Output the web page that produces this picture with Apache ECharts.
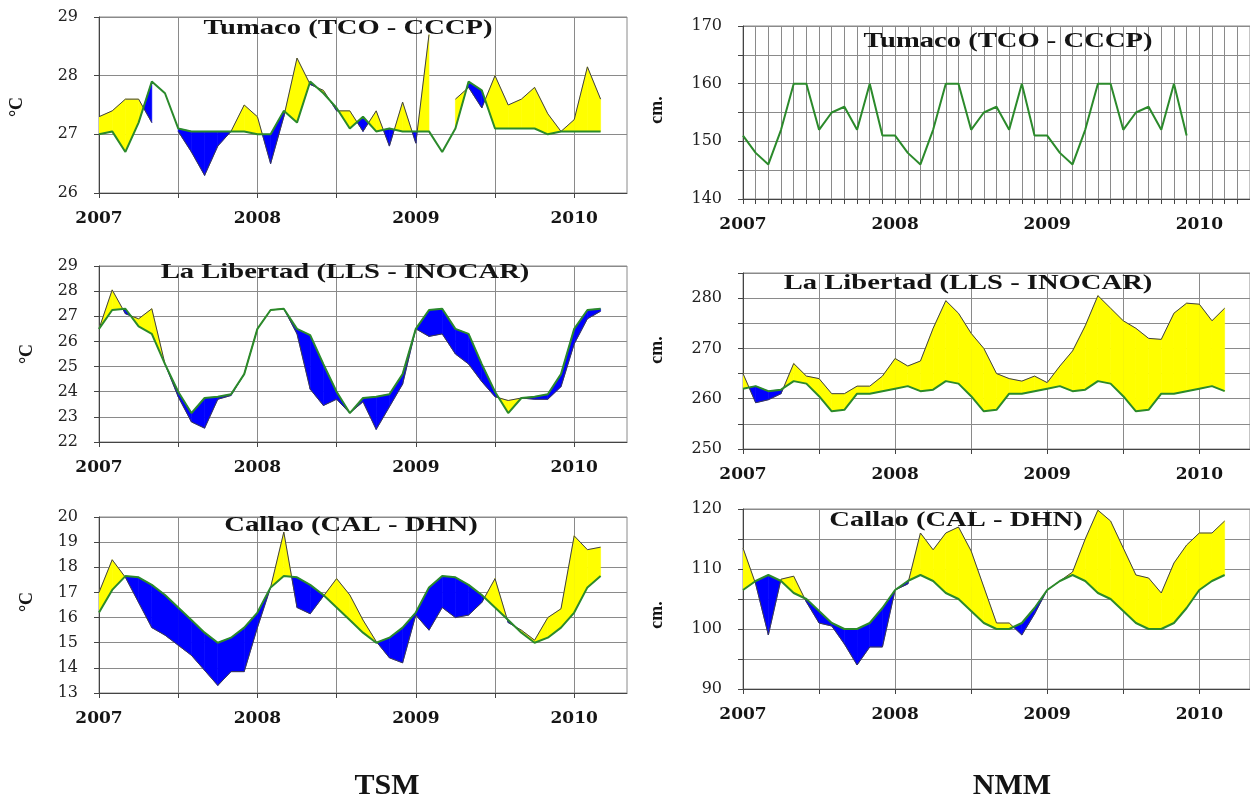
<!DOCTYPE html>
<html><head><meta charset="utf-8">
<script src="https://cdn.jsdelivr.net/npm/echarts@6/dist/echarts.min.js"></script>
<style>html,body{margin:0;padding:0;background:#fff}#c{width:1250px;height:799px}</style>
</head><body><div id="c"></div>
<script>
// ---------- data (monthly values, first value = Jan 2007) ----------
const startYear = 2007;
const yearLabels = [2007, 2008, 2009, 2010];

// Tumaco TSM (°C)
const tcoSstClim = [27.0,27.05,26.7,27.2,27.9,27.7,27.1,27.05,27.05,27.05,27.05,27.05,
  27.0,27.0,27.4,27.2,27.9,27.7,27.45,27.1,27.3,27.05,27.1,27.05,
  27.05,27.05,26.7,27.1,27.9,27.75,27.1,27.1,27.1,27.1,27.0,27.05,
  27.05,27.05,27.05];
const tcoSstObs = [27.3,27.4,27.6,27.6,27.2,null,27.05,26.7,26.3,26.8,27.05,27.5,
  27.3,26.5,27.3,28.3,27.85,27.75,27.4,27.4,27.05,27.4,26.8,27.55,
  26.85,28.7,null,27.6,27.8,27.45,28.0,27.5,27.6,27.8,27.35,27.05,
  27.25,28.15,27.6];

// La Libertad TSM (°C)
const lllSstClim = [26.5,27.25,27.3,26.6,26.3,25.1,24.0,23.15,23.75,23.8,23.9,24.7,
  26.5,27.25,27.3,26.5,26.25,25.1,24.0,23.15,23.75,23.8,23.9,24.7,
  26.5,27.25,27.3,26.5,26.3,25.1,24.0,23.15,23.75,23.8,23.9,24.7,
  26.5,27.25,27.3];
const lllSstObs = [26.5,28.05,27.1,26.9,27.3,25.1,23.8,22.8,22.55,23.7,23.85,24.7,
  26.5,27.25,27.3,26.3,24.1,23.45,23.7,23.15,23.6,22.5,23.4,24.3,
  26.5,26.2,26.3,25.5,25.1,24.4,23.8,23.65,23.75,23.7,23.7,24.2,
  25.9,26.9,27.2];

// Callao TSM (°C)
const calSstClim = [16.2,17.1,17.65,17.6,17.3,16.9,16.4,15.9,15.4,15.0,15.2,15.6,
  16.2,17.2,17.65,17.6,17.3,16.9,16.4,15.9,15.4,15.0,15.2,15.6,
  16.2,17.2,17.65,17.6,17.3,16.9,16.4,15.9,15.4,15.0,15.2,15.6,
  16.2,17.2,17.65];
const calSstObs = [17.0,18.3,17.6,16.6,15.6,15.3,14.9,14.5,13.9,13.3,13.85,13.85,
  15.6,17.2,19.4,16.4,16.15,16.85,17.55,16.9,15.9,15.05,14.4,14.2,
  16.1,15.5,16.4,16.0,16.1,16.6,17.55,15.8,15.5,15.1,16.0,16.35,
  19.25,18.7,18.8];

// Tumaco NMM (cm)
const tcoNmm = [151,148,146,152,160,160,152,155,156,152,160,151,
  151,148,146,152,160,160,152,155,156,152,160,151,
  151,148,146,152,160,160,152,155,156,152,160,151];

// La Libertad NMM (cm)
const lllNmmClim = [262,262.5,261.5,261.8,263.5,263,260.5,257.5,257.8,261,261,261.5,
  262,262.5,261.5,261.8,263.5,263,260.5,257.5,257.8,261,261,261.5,
  262,262.5,261.5,261.8,263.5,263,260.5,257.5,257.8,261,261,261.5,
  262,262.5,261.5];
const lllNmmObs = [265,259.2,259.8,261,267,264.5,264,261,261,262.5,262.5,264.5,
  268,266.5,267.5,274,279.5,277,273,270,265,264,263.5,264.5,
  263.2,266.5,269.5,274.5,280.5,278,275.5,274,272,271.8,277,279,
  278.8,275.5,278];

// Callao NMM (cm)
const calNmmClim = [106.5,108,109,108,106,105,103,101,100,100,101,103.5,
  106.5,108,109,108,106,105,103,101,100,100,101,103.5,
  106.5,108,109,108,106,105,103,101,100,100,101,103.5,
  106.5,108,109];
const calNmmObs = [113.5,107.5,99,108.3,108.8,104.5,101,100.5,97.5,94,97,97,
  106.5,107.5,116,113.2,116,117,113,107,101,101,99,102.5,
  106.5,108,109.5,115,119.8,118,113.5,109,108.5,106,111,114,
  116,116,118];

const titles = ['Tumaco (TCO - CCCP)', 'La Libertad (LLS - INOCAR)', 'Callao (CAL - DHN)'];
const sstLabels = [[26,27,28,29],[22,23,24,25,26,27,28,29],[13,14,15,16,17,18,19,20]];
const nmmLabels = [[140,150,160,170],[250,260,270,280],[90,100,110,120]];

// ---------- helpers ----------
const YELLOW = '#ffff00', BLUE = '#0000ff', GREEN = '#2b8a2b', OBS = '#3c3c4c';
const XMIN = 2007, XMAX = 2010 + 4/12;
const mx = i => startYear + i / 12;
const pairs = arr => arr.map((v, i) => [mx(i), v]);
const halfYears = []; for (let v = XMIN; v <= 2010.001; v += 0.5) halfYears.push(v);
const monthTicks = []; for (let k = 0; k <= 40; k++) monthTicks.push(XMIN + k / 12);

const grids = [
  {left: 99, top: 17, width: 528, height: 176},
  {left: 99, top: 266, width: 528, height: 176},
  {left: 99, top: 517, width: 528, height: 176},
  {left: 743, top: 26, width: 528, height: 173},
  {left: 743, top: 273, width: 528, height: 176},
  {left: 743, top: 509, width: 528, height: 180}
];
const yRanges = [[26,29,1],[22,29,1],[13,20,1],[140,170,10],[250,285,10],[90,120,10]];

const xAxes = grids.map((g, k) => ({
  gridIndex: k, type: 'value', min: XMIN, max: XMAX, interval: 1,
  axisLine: {show: true, onZero: false, lineStyle: {color: '#444', width: 1}},
  axisTick: {show: true, length: 5, customValues: k === 3 ? monthTicks : halfYears,
    lineStyle: {color: '#444'}},
  axisLabel: {customValues: yearLabels, formatter: v => String(Math.round(v)), margin: 17,
    fontFamily: 'DejaVu Serif', fontWeight: 'bold', fontSize: 17, color: '#151515'},
  splitLine: {show: true, lineStyle: {color: '#8a8a8a', width: 1}}
}));
const yAxes = grids.map((g, k) => {
  const [mn, mxv, iv] = yRanges[k];
  const labels = k < 3 ? sstLabels[k] : nmmLabels[k - 3];
  const ticks = [];
  if (k < 3) labels.forEach(v => ticks.push(v));
  else for (let v = mn; v <= mxv; v += 5) ticks.push(v);
  return {
    gridIndex: k, type: 'value', min: mn, max: mxv, interval: iv,
    axisLine: {show: true, lineStyle: {color: '#444', width: 1}},
    axisTick: {show: true, length: 5, customValues: ticks, lineStyle: {color: '#444'}},
    axisLabel: {customValues: labels, margin: 21, fontFamily: 'DejaVu Serif',
      fontSize: 16, color: '#222'},
    splitLine: {show: true, lineStyle: {color: '#8a8a8a', width: 1}}
  };
});

function fillSeries(k, clim, obs) {
  const data = [];
  for (let i = 0; i + 1 < clim.length; i++) {
    if (obs[i] == null || obs[i + 1] == null) continue;
    data.push([mx(i), clim[i], obs[i], mx(i + 1), clim[i + 1], obs[i + 1]]);
  }
  return {
    type: 'custom', xAxisIndex: k, yAxisIndex: k, z: 1, silent: true, clip: true,
    encode: {x: [0, 3], y: [1, 2, 4, 5]}, data,
    renderItem(params, api) {
      const x0 = api.value(0), c0 = api.value(1), o0 = api.value(2);
      const x1 = api.value(3), c1 = api.value(4), o1 = api.value(5);
      const d0 = o0 - c0, d1 = o1 - c1;
      const P = (x, y) => api.coord([x, y]);
      const col = d => d >= 0 ? YELLOW : BLUE;
      const polys = [];
      if (d0 * d1 >= 0) {
        polys.push({pts: [P(x0, c0), P(x1, c1), P(x1, o1), P(x0, o0)], c: col(d0 + d1)});
      } else {
        const t = d0 / (d0 - d1);
        const xc = x0 + t * (x1 - x0), yc = c0 + t * (c1 - c0);
        polys.push({pts: [P(x0, c0), P(xc, yc), P(x0, o0)], c: col(d0)});
        polys.push({pts: [P(xc, yc), P(x1, c1), P(x1, o1)], c: col(d1)});
      }
      return {type: 'group', children: polys.map(p => ({
        type: 'polygon', shape: {points: p.pts},
        style: {fill: p.c, stroke: p.c, lineWidth: 0.6}
      }))};
    }
  };
}
function line(k, arr, color, width, z) {
  return {type: 'line', xAxisIndex: k, yAxisIndex: k, data: pairs(arr), symbol: 'none',
    showSymbol: false, connectNulls: false, z, silent: true,
    lineStyle: {color, width}};
}

const series = [
  fillSeries(0, tcoSstClim, tcoSstObs), line(0, tcoSstObs, OBS, 1, 3), line(0, tcoSstClim, GREEN, 2, 4),
  fillSeries(1, lllSstClim, lllSstObs), line(1, lllSstObs, OBS, 1, 3), line(1, lllSstClim, GREEN, 2, 4),
  fillSeries(2, calSstClim, calSstObs), line(2, calSstObs, OBS, 1, 3), line(2, calSstClim, GREEN, 2, 4),
  line(3, tcoNmm, GREEN, 2, 4),
  fillSeries(4, lllNmmClim, lllNmmObs), line(4, lllNmmObs, OBS, 1, 3), line(4, lllNmmClim, GREEN, 2, 4),
  fillSeries(5, calNmmClim, calNmmObs), line(5, calNmmObs, OBS, 1, 3), line(5, calNmmClim, GREEN, 2, 4)
];

const SERIF = '"Liberation Serif", "Times New Roman", serif';
function txt(s, x, y, size, opts) {
  return Object.assign({type: 'text', x, y, z: 100, silent: true,
    style: {text: s, fontFamily: SERIF, fontWeight: 'bold', fontSize: size, fill: '#141414',
      align: 'center', verticalAlign: 'middle'}}, opts || {});
}
const graphic = [
  txt(titles[0], 348, 28, 22, {scaleX: 1.3}),
  txt(titles[1], 345, 272, 22, {scaleX: 1.3}),
  txt(titles[2], 351, 525, 22, {scaleX: 1.3}),
  txt(titles[0], 1008, 41, 22, {scaleX: 1.3}),
  txt(titles[1], 968, 283, 22, {scaleX: 1.3}),
  txt(titles[2], 956, 520, 22, {scaleX: 1.3}),
  txt('°C', 17, 107, 18, {rotation: Math.PI / 2}),
  txt('°C', 27, 354, 18, {rotation: Math.PI / 2}),
  txt('°C', 27, 602, 18, {rotation: Math.PI / 2}),
  txt('cm.', 657, 110, 18, {rotation: Math.PI / 2}),
  txt('cm.', 657, 350, 18, {rotation: Math.PI / 2}),
  txt('cm.', 657, 615, 18, {rotation: Math.PI / 2}),
  txt('TSM', 387, 786, 30),
  txt('NMM', 1012, 786, 30)
];

const chart = echarts.init(document.getElementById('c'), null, {renderer: 'canvas'});
chart.setOption({
  animation: false,
  backgroundColor: '#ffffff',
  grid: grids.map(g => Object.assign({show: true, borderColor: '#8a8a8a', borderWidth: 1,
    backgroundColor: 'transparent', containLabel: false}, g)),
  xAxis: xAxes, yAxis: yAxes, series, graphic
});
</script></body></html>
